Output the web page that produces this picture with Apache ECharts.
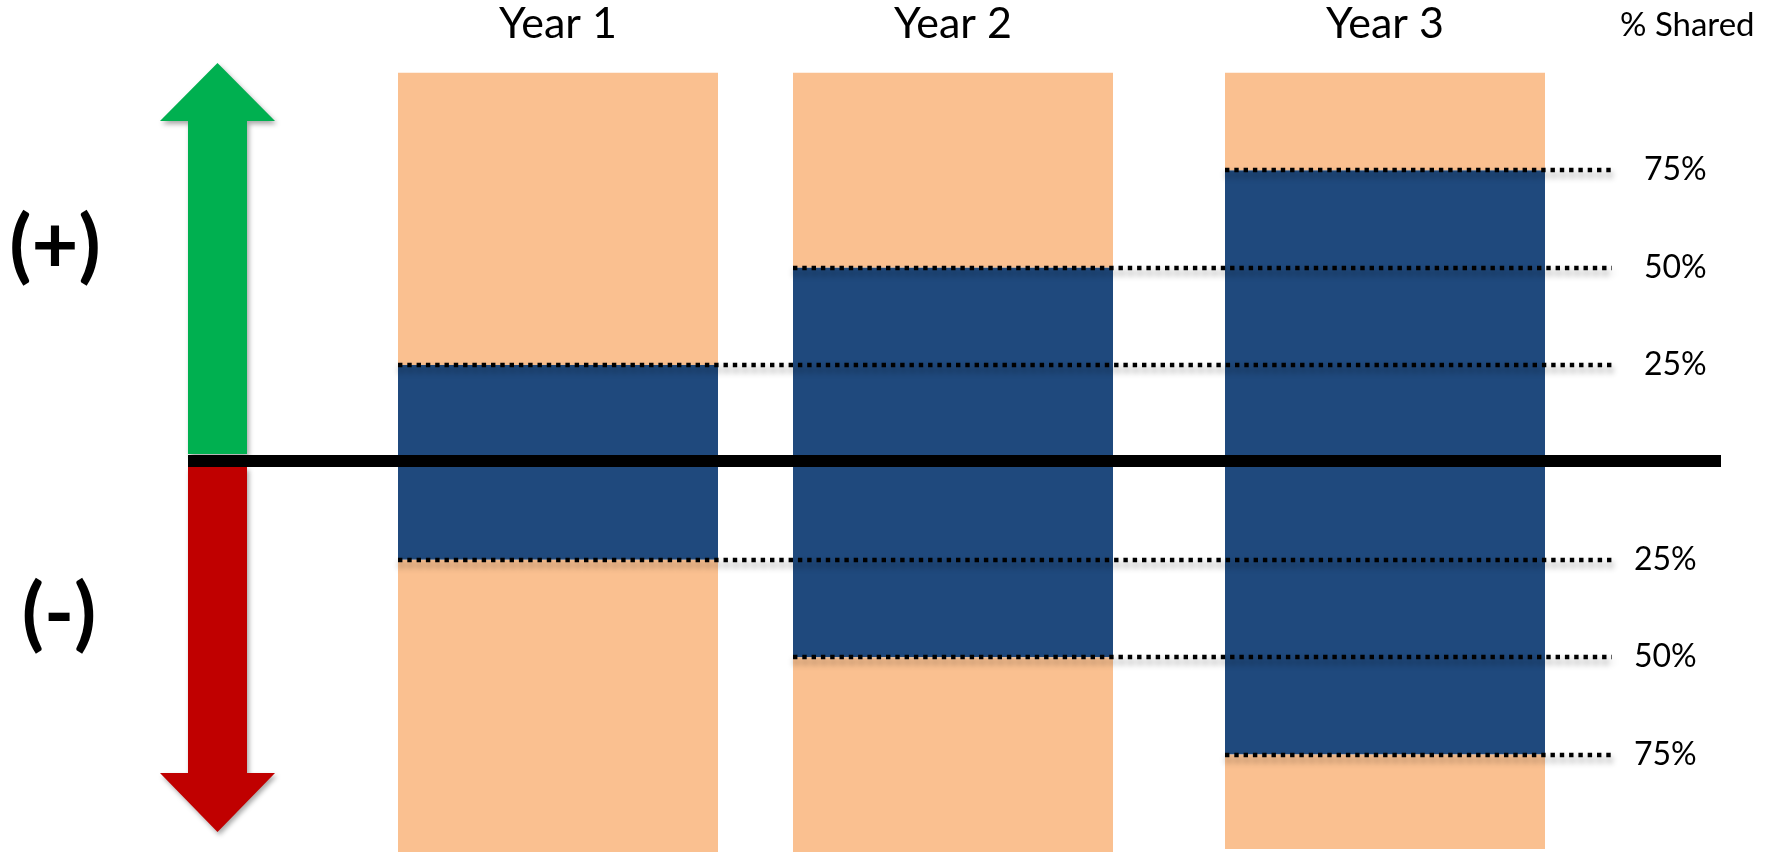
<!DOCTYPE html>
<html>
<head>
<meta charset="utf-8">
<script src="https://cdn.jsdelivr.net/npm/echarts@6/dist/echarts.min.js"></script>
<style>html,body{margin:0;padding:0;background:#fff}#c{width:1777px;height:852px}</style>
</head>
<body>
<div id="c"></div>
<script>
// ---- data ----
const years = ['Year 1', 'Year 2', 'Year 3'];
const sharedPct = [25, 50, 75];        // blue band half-height (% shared), above and below zero
const spanUp = [100, 100, 100];        // column extent above zero
const spanDown = [100, 100, 99.2];     // column extent below zero
const axisTitle = '% Shared';
const sideLabels = ['(+)', '(-)'];

// ---- layout / style ----
const BLUE = '#1F497D', ORANGE = '#FAC090', GREEN = '#00B050', RED = '#C00000';
const FONT = 'Lato';
const barLeft = [398, 793, 1225];
const BAR_W = 320;
const TOP = 72.8, BOTTOM = 0;
const LINE_END = 1612;
const LABEL_X_UP = 1644, LABEL_X_DOWN = 1634;

const grids = [], xAxes = [], yAxes = [], series = [];
years.forEach((name, i) => {
  grids.push({left: barLeft[i], width: BAR_W, top: TOP, bottom: BOTTOM});
  xAxes.push({
    type: 'category', gridIndex: i, data: [name], position: 'top',
    axisLine: {show: false, onZero: false}, axisTick: {show: false},
    axisLabel: {fontFamily: FONT, fontSize: 43, color: '#000', margin: 49, verticalAlign: 'middle'}
  });
  yAxes.push({type: 'value', gridIndex: i, min: -100, max: 100, show: false});
  const blue = sharedPct[i];
  [[blue, BLUE], [spanUp[i] - blue, ORANGE], [-blue, BLUE], [-(spanDown[i] - blue), ORANGE]].forEach(([v, c]) => {
    series.push({
      type: 'bar', xAxisIndex: i, yAxisIndex: i, stack: 's' + i,
      barWidth: BAR_W, data: [v], itemStyle: {color: c}, z: 2, silent: true
    });
  });
  series.push({
    type: 'custom', xAxisIndex: i, yAxisIndex: i, z: 6, silent: true,
    data: [[0, sharedPct[i]], [0, -sharedPct[i]]],
    renderItem(params, api) {
      const v = api.value(1);
      const p = api.coord([api.value(0), v]);
      const x0 = Math.round(p[0] - BAR_W / 2);
      const y = Math.round(p[1]);
      return {
        type: 'group',
        children: [
          {type: 'line', shape: {x1: x0, y1: y, x2: LINE_END, y2: y},
           style: {stroke: '#000', lineWidth: 4.4, lineDash: [4.4, 4.9],
                   shadowBlur: 6, shadowColor: 'rgba(0,0,0,0.45)', shadowOffsetX: 1, shadowOffsetY: 5}},
          {type: 'text', x: v > 0 ? LABEL_X_UP : LABEL_X_DOWN, y: y,
           style: {text: Math.abs(v) + '%', fontFamily: FONT, fontSize: 32, fill: '#000',
                   align: 'left', verticalAlign: 'middle'}}
        ]
      };
    }
  });
});

// zero line grid
grids.push({left: 188, right: 56, top: 71, bottom: 1});
xAxes.push({
  type: 'value', gridIndex: 3, min: 0, max: 1, z: 5,
  axisLine: {show: true, onZero: true, lineStyle: {color: '#000', width: 12, cap: 'butt'}},
  axisTick: {show: false}, axisLabel: {show: false}, splitLine: {show: false}
});
yAxes.push({type: 'value', gridIndex: 3, min: -100, max: 100, show: false});

const arrowShadow = {shadowBlur: 5, shadowColor: 'rgba(0,0,0,0.35)', shadowOffsetX: 2, shadowOffsetY: 3};

const option = {
  animation: false,
  backgroundColor: '#fff',
  grid: grids, xAxis: xAxes, yAxis: yAxes, series: series,
  graphic: [
    {type: 'polygon', z: 3, shape: {points: [[188,454],[188,121],[160,121],[217.5,63],[275,121],[247,121],[247,454]]},
     style: Object.assign({fill: GREEN}, arrowShadow)},
    {type: 'polygon', z: 3, shape: {points: [[188,467],[188,773],[160,773],[217.5,832],[275,773],[247,773],[247,467]]},
     style: Object.assign({fill: RED}, arrowShadow)},
    {type: 'text', x: 55, y: 247, z: 4,
     style: {text: sideLabels[0], fontFamily: FONT, fontWeight: 'bold', fontSize: 81, fill: '#000', align: 'center', verticalAlign: 'middle'}},
    {type: 'text', x: 59, y: 615, z: 4,
     style: {text: sideLabels[1], fontFamily: FONT, fontWeight: 'bold', fontSize: 81, fill: '#000', align: 'center', verticalAlign: 'middle'}},
    {type: 'text', x: 1620, y: 25, z: 4,
     style: {text: axisTitle, fontFamily: FONT, fontSize: 33, fill: '#000', align: 'left', verticalAlign: 'middle'}}
  ]
};

const chart = echarts.init(document.getElementById('c'), null, {renderer: 'canvas'});
chart.setOption(option);
</script>
</body>
</html>
